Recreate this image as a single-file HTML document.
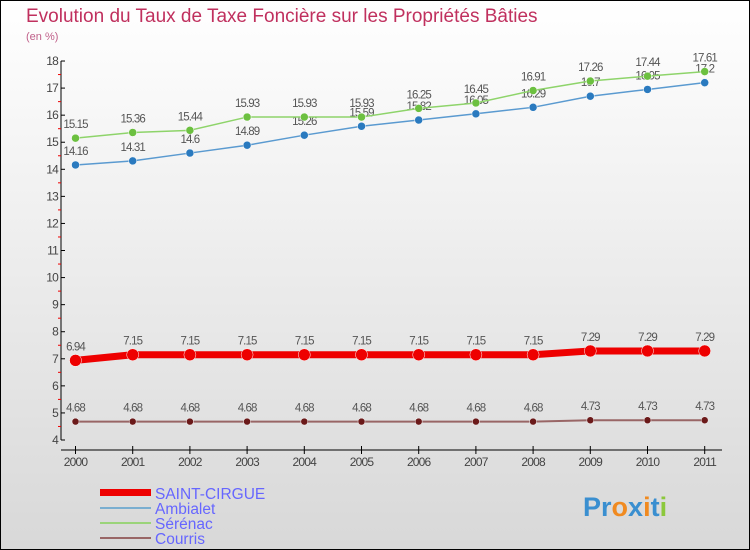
<!DOCTYPE html>
<html><head><meta charset="utf-8"><style>
body{margin:0;width:750px;height:550px;overflow:hidden;font-family:"Liberation Sans",sans-serif}
svg{display:block}
</style></head><body>
<svg id="c" width="750" height="550" viewBox="0 0 750 550">
<defs><linearGradient id="bg" x1="0" y1="0" x2="0" y2="1"><stop offset="0" stop-color="#ffffff"/><stop offset="1" stop-color="#d8d8d8"/></linearGradient></defs>
<rect x="0.5" y="0.5" width="749" height="549" fill="url(#bg)" stroke="#000"/>
<text x="26" y="22" font-size="19" fill="#c0305e">Evolution du Taux de Taxe Foncière sur les Propriétés Bâties</text>
<text x="26" y="40" font-size="11" fill="#c0608a">(en %)</text>
<g id="axes"></g><g id="series"></g>
<g>
<rect x="100" y="489" width="51" height="7" fill="#e00"/>
<line x1="100" y1="508" x2="151" y2="508" stroke="#7aaed0" stroke-width="2"/>
<line x1="100" y1="523" x2="151" y2="523" stroke="#9bd47a" stroke-width="2"/>
<line x1="100" y1="538" x2="151" y2="538" stroke="#996666" stroke-width="2"/>
<text x="155" y="499" font-size="15.5" fill="#6666ff">SAINT-CIRGUE</text>
<text x="155" y="514" font-size="15.5" fill="#6666ff">Ambialet</text>
<text x="155" y="529" font-size="15.5" fill="#6666ff">Sérénac</text>
<text x="155" y="544" font-size="15.5" fill="#6666ff">Courris</text>
</g>
<text x="583" y="516" font-size="27" font-weight="bold" fill="#3a8fd0">Pr<tspan fill="#f08a20">o</tspan>x<tspan fill="#f08a20">i</tspan>t<tspan fill="#8cc83c">i</tspan></text>
</svg>
<script>
const years=[2000,2001,2002,2003,2004,2005,2006,2007,2008,2009,2010,2011];
const yTicks=[4,5,6,7,8,9,10,11,12,13,14,15,16,17,18];
const saintCirgue=[6.94,7.15,7.15,7.15,7.15,7.15,7.15,7.15,7.15,7.29,7.29,7.29];
const ambialet=[14.16,14.31,14.6,14.89,15.26,15.59,15.82,16.05,16.29,16.7,16.95,17.2];
const serenac=[15.15,15.36,15.44,15.93,15.93,15.93,16.25,16.45,16.91,17.26,17.44,17.61];
const courris=[4.68,4.68,4.68,4.68,4.68,4.68,4.68,4.68,4.68,4.73,4.73,4.73];
const NS="http://www.w3.org/2000/svg";
const X=i=>75.5+i*57.2, Y=v=>440-(v-4)*27.07;
function mk(t,a,p){const e=document.createElementNS(NS,t);for(const k in a)e.setAttribute(k,a[k]);p.appendChild(e);return e;}
const ax=document.getElementById('axes');
const yl=mk('line',{x1:61,y1:Y(18),x2:61,y2:Y(4),stroke:'#000'},ax);


yTicks.forEach(v=>{
 mk('line',{x1:61,y1:Y(v),x2:65,y2:Y(v),stroke:'#000'},ax);
 if(v<18) mk('line',{x1:58,y1:Y(v+0.5),x2:61,y2:Y(v+0.5),stroke:'#e00'},ax);
 const t=mk('text',{x:58,y:Y(v)+4,'text-anchor':'end','font-size':12,fill:'#444','letter-spacing':'-0.8'},ax);
 t.textContent=v;
 
 
});
const xl=mk('line',{x1:61,y1:450,x2:722,y2:450,stroke:'#000'},ax);


years.forEach((y,i)=>{
 mk('line',{x1:X(i),y1:446,x2:X(i),y2:454,stroke:'#000'},ax);
 const t=mk('text',{x:X(i),y:466,'text-anchor':'middle','font-size':12,fill:'#444','letter-spacing':'-0.8'},ax);
 t.textContent=y;
 
 
});
const sg=document.getElementById('series');
function series(name,vals,col,dot,w,r,fmt){
 const g=mk('g',{},sg);
 
 
 mk('polyline',{points:vals.map((v,i)=>X(i)+','+Y(v)).join(' '),fill:'none',stroke:col,'stroke-width':w,'stroke-linejoin':'round'},g);
 vals.forEach((v,i)=>{
  const c=mk('circle',{cx:X(i),cy:Y(v),r:r,fill:dot,stroke:'#fff','stroke-width':0.5},g);
  
  
  const t=mk('text',{x:X(i),y:Y(v)-10,'text-anchor':'middle','font-size':11.5,fill:'#555','letter-spacing':'-0.9'},g);
  t.textContent=fmt(v);
  
  
 });
}
const f=v=>String(v);
series('courris',courris,'#996666','#6b1a1a',2,3.5,v=>String(v));
series('ambialet',ambialet,'#5a9ad0','#2a7abf',1.5,4,f);
series('serenac',serenac,'#8ed46a','#6cc040',1.5,4,f);
series('saint-cirgue',saintCirgue,'#e00','#e00',7,6,v=>v.toFixed(2));
</script>
</body></html>
